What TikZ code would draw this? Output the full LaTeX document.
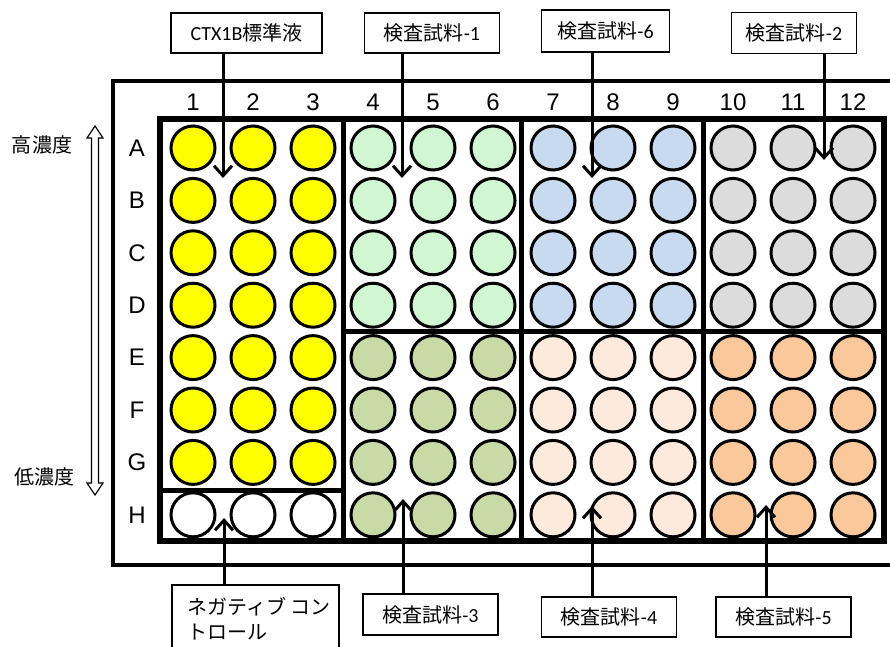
\documentclass[tikz,border=0pt]{standalone}
\usepackage{fontspec}
\setmainfont{Liberation Sans}
\newfontfamily\cjk{Noto Sans CJK JP}
\newfontfamily\lat{Carlito}
\usetikzlibrary{arrows.meta}
\definecolor{cyel}{RGB}{255,255,0}
\definecolor{cgrn}{RGB}{208,246,210}
\definecolor{cblu}{RGB}{200,218,240}
\definecolor{cgry}{RGB}{220,220,220}
\definecolor{colv}{RGB}{200,218,166}
\definecolor{cpch}{RGB}{253,234,220}
\definecolor{corg}{RGB}{251,200,156}
\tikzset{
  well/.style={circle, draw=black, line width=3pt, minimum size=44pt, inner sep=0pt},
  lbl/.style={font=\fontsize{24}{28}\selectfont, inner sep=0pt},
  jlbl/.style={font=\cjk\fontsize{20}{24}\selectfont, inner sep=0pt},
  tag/.style={draw=black, line width=1.5pt, fill=white, inner sep=0pt, font=\fontsize{20}{24}\selectfont},
  conn/.style={line width=3pt, -{Straight Barb[length=10pt,width=18pt]}},
  frame/.style={line width=4pt},
  grid/.style={line width=6pt},
  divider/.style={line width=5pt}
}
\begin{document}
\begin{tikzpicture}[x=1pt,y=-1pt]
\useasboundingbox (0,0) rectangle (890,646);
\fill[white] (0,0) rectangle (890,646);
% outer plate
\draw[frame] (895,81) -- (113,81) -- (113,565) -- (895,565);
% column labels
\foreach \c in {1,...,12} {
  \node[lbl] (col\c) at ({193+60*(\c-1)},102) {\c};
}
% row labels and wells
\foreach \r/\R in {1/A,2/B,3/C,4/D,5/E,6/F,7/G,8/H} {
  \node[lbl] (row\R) at (137,{148+52.4*(\r-1)}) {\R};
  \foreach \c in {1,...,12} {
    \pgfmathtruncatemacro{\up}{\r<5 ? 1 : 0}
    \ifnum\c<4
      \ifnum\r<8 \def\wc{cyel}\else\def\wc{white}\fi
    \else\ifnum\c<7
      \ifnum\up=1 \def\wc{cgrn}\else\def\wc{colv}\fi
    \else\ifnum\c<10
      \ifnum\up=1 \def\wc{cblu}\else\def\wc{cpch}\fi
    \else
      \ifnum\up=1 \def\wc{cgry}\else\def\wc{corg}\fi
    \fi\fi\fi
    \node[well, fill=\wc] (w\R\c) at ({193+60*(\c-1)},{148+52.4*(\r-1)}) {};
  }
}
% grid box and dividers
\draw[grid] (160,119) rectangle (884,541);
\draw[divider] (343,119) -- (343,541);
\draw[divider] (521,119) -- (521,541);
\draw[divider] (703,119) -- (703,541);
\draw[divider] (343,331) -- (884,331);
\draw[divider] (160,490) -- (343,490);
% concentration labels
\node[jlbl] (hi) at (42,145) {高濃度};
\node[jlbl] (lo) at (44,477) {低濃度};
\draw[line width=1.2pt, fill=white] (95,126) -- (103,138) -- (98.5,138) -- (98.5,483) -- (103,483) -- (95,495) -- (87,483) -- (91.5,483) -- (91.5,138) -- (87,138) -- cycle;
% tags
\node[tag, minimum width=151pt, minimum height=40pt] (b1) at (246.5,33) {\lat CTX1B\cjk 標準液};
\node[tag, minimum width=135pt, minimum height=40pt] (b2) at (432,33) {\cjk 検査試料\lat -1};
\node[tag, minimum width=128pt, minimum height=42pt] (b3) at (605.5,31) {\cjk 検査試料\lat -6};
\node[tag, minimum width=125pt, minimum height=41pt] (b4) at (794,33) {\cjk 検査試料\lat -2};
\node[tag, minimum width=167pt, minimum height=80pt, anchor=north west] (b5) at (171,584) {};
\node[anchor=west, inner sep=0pt, font=\cjk\fontsize{20}{24}\selectfont] (b5a) at (187,607) {ネガティブ コン};
\node[anchor=west, inner sep=0pt, font=\cjk\fontsize{20}{24}\selectfont] (b5b) at (187,632) {トロール};
\node[tag, minimum width=135pt, minimum height=41pt] (b6) at (430.5,614.5) {\cjk 検査試料\lat -3};
\node[tag, minimum width=135pt, minimum height=40pt] (b7) at (609,617) {\cjk 検査試料\lat -4};
\node[tag, minimum width=135pt, minimum height=40pt] (b8) at (783.5,617) {\cjk 検査試料\lat -5};
% arrow tips
\coordinate (t1) at (223,178);
\coordinate (t2) at (402,178);
\coordinate (t3) at (592,178);
\coordinate (t4) at (824,160);
\coordinate (t5) at (224,518);
\coordinate (t6) at (403,499);
\coordinate (t7) at (592,506);
\coordinate (t8) at (766,505);
\draw[conn] (t1 |- b1.south) -- (t1);
\draw[conn] (t2 |- b2.south) -- (t2);
\draw[conn] (t3 |- b3.south) -- (t3);
\draw[conn] (t4 |- b4.south) -- (t4);
\draw[conn] (t5 |- b5.north) -- (t5);
\draw[conn] (t6 |- b6.north) -- (t6);
\draw[conn] (t7 |- b7.north) -- (t7);
\draw[conn] (t8 |- b8.north) -- (t8);
\end{tikzpicture}
\end{document}
